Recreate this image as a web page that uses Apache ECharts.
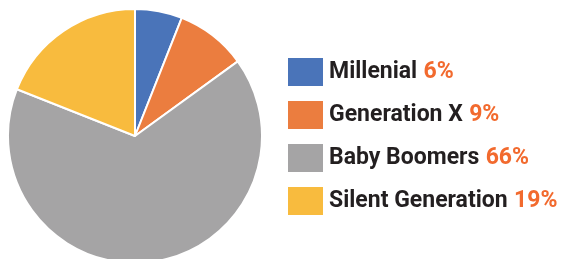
<!DOCTYPE html>
<html>
<head>
<meta charset="utf-8">
<script src="https://cdn.jsdelivr.net/npm/echarts@6/dist/echarts.min.js"></script>
<style>
html, body { margin: 0; padding: 0; background: #fff; }
#chart { width: 562px; height: 259px; }
</style>
</head>
<body>
<div id="chart"></div>
<script>
// generations share
var categories = ['Millenial', 'Generation X', 'Baby Boomers', 'Silent Generation'];
var values = [6, 9, 66, 19];
var colors = ['#4a74b9', '#eb7d3f', '#a5a4a5', '#f8bb3e'];

var pieData = [];
for (var i = 0; i < categories.length; i++) {
    pieData.push({ name: categories[i], value: values[i], itemStyle: { color: colors[i] } });
}

var myChart = echarts.init(document.getElementById('chart'));
var option = {
    animation: false,
    legend: {
        orient: 'vertical',
        left: 286,
        top: 56,
        padding: 0,
        itemWidth: 37,
        itemHeight: 30,
        itemGap: 11,
        icon: 'rect',
        data: categories,
        formatter: function(name) {
            var idx = categories.indexOf(name);
            return '{n|' + name + '} {p|' + values[idx] + '%}';
        },
        textStyle: {
            padding: [0, 0, 0, 0],
            lineHeight: 24,
            rich: {
                n: { fontFamily: 'Roboto', fontWeight: 'bold', fontSize: 23, lineHeight: 24, color: '#231f20' },
                p: { fontFamily: 'Roboto', fontWeight: 'bold', fontSize: 23, lineHeight: 24, color: '#f26a2e', padding: [0, 0, 0, 3] }
            }
        }
    },
    series: [
        {
            type: 'pie',
            center: [135, 136],
            radius: 127,
            startAngle: 90,
            clockwise: true,
            label: { show: false },
            labelLine: { show: false },
            silent: true,
            itemStyle: { borderColor: '#ffffff', borderWidth: 2 },
            data: pieData
        }
    ]
};
myChart.setOption(option);
</script>
</body>
</html>
